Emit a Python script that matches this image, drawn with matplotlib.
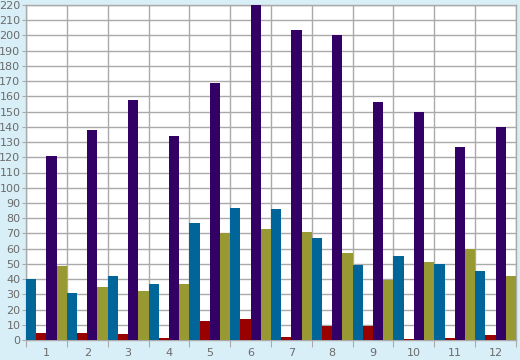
import numpy as np
import matplotlib.pyplot as plt

groups = [str(i) for i in range(1, 13)]
teal = [40, 31, 42, 37, 77, 87, 86, 67, 49, 55, 50, 45]
red = [4.5, 4.5, 4, 1, 12.5, 14, 2, 9.5, 9.5, 0.8, 1, 3.5]
purple = [121, 138, 157.5, 134, 168.5, 220, 203.5, 200, 156, 150, 126.5, 140]
olive = [48.5, 35, 32, 37, 70, 73, 71, 57, 39.5, 51, 59.5, 42]

series = [teal, red, purple, olive]
colors = ["#006699", "#990000", "#330066", "#999933"]

BG = "#d9eff7"
GRID = "#aaaaaa"
TXT = "#6b6b6b"

fig = plt.figure(figsize=(5.2, 3.6), dpi=100, facecolor=BG)
ax = fig.add_axes([26 / 520, 20 / 360, 490 / 520, 335 / 360])
ax.set_facecolor("white")

x = np.arange(len(groups))
w = 0.25
for k, (vals, c) in enumerate(zip(series, colors)):
    ax.bar(x + k * w, vals, width=w, align="edge", color=c, linewidth=0, zorder=3)

ax.set_xlim(0, len(groups))
ax.set_ylim(0, 220)
ax.set_yticks(np.arange(0, 221, 10))
ax.set_xticks(np.arange(0, len(groups) + 1))
ax.set_xticklabels([])
ax.set_xticks(x + 0.5, minor=True)
ax.set_xticklabels(groups, minor=True)

ax.grid(True, which="major", color=GRID, linewidth=1, zorder=0)
ax.set_axisbelow(True)

ax.tick_params(axis="x", which="major", length=5, color=GRID, direction="out")
ax.tick_params(axis="x", which="minor", length=0, pad=6, labelsize=8, labelcolor=TXT)
ax.tick_params(axis="y", length=3, color=GRID, labelsize=8, labelcolor=TXT, pad=1)

for s in ax.spines.values():
    s.set_color(GRID)
    s.set_linewidth(1)

fig.savefig("out.png", dpi=100, facecolor=BG)
